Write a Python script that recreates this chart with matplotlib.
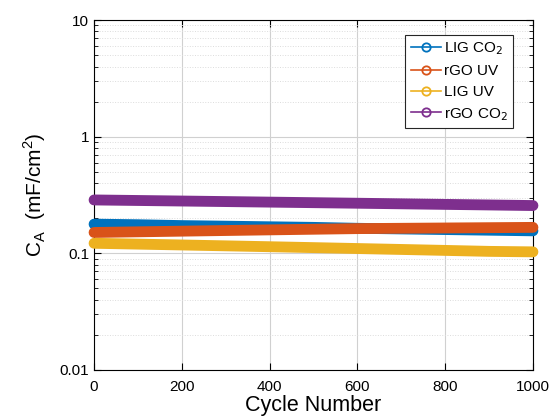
import numpy as np
import matplotlib.pyplot as plt
from matplotlib.lines import Line2D

plt.rcParams['font.family'] = ['Liberation Sans', 'DejaVu Sans']

cycles = [0, 100, 200, 300, 400, 500, 600, 700, 800, 900, 1000]
lig_co2 = [0.178, 0.176, 0.173, 0.171, 0.169, 0.167, 0.164, 0.162, 0.160, 0.158, 0.156]
rgo_uv = [0.151, 0.153, 0.155, 0.157, 0.159, 0.161, 0.163, 0.164, 0.165, 0.166, 0.167]
lig_uv = [0.122, 0.120, 0.118, 0.116, 0.114, 0.112, 0.110, 0.108, 0.106, 0.104, 0.103]
rgo_co2 = [0.287, 0.284, 0.281, 0.278, 0.275, 0.272, 0.269, 0.266, 0.263, 0.260, 0.257]

labels = ['LIG CO$_2$', 'rGO UV', 'LIG UV', 'rGO CO$_2$']
colors = ['#0072bd', '#d95319', '#edb120', '#7e2f8e']
series = [lig_co2, rgo_uv, lig_uv, rgo_co2]

fig = plt.figure(figsize=(5.5, 4.19), dpi=100)
ax = fig.add_axes([0.171, 0.117, 0.798, 0.835])

for ys, c in zip(series, colors):
    ax.plot(cycles, ys, color=c, lw=7.8, solid_capstyle='round', clip_on=False, zorder=3)

ax.set_yscale('log')
ax.set_xlim(0, 1000)
ax.set_ylim(0.01, 10)
ax.set_xticks([0, 200, 400, 600, 800, 1000])
ax.set_yticks([0.01, 0.1, 1, 10])
ax.set_yticklabels(['0.01', '0.1', '1', '10'])

ax.grid(True, which='major', color='#d0d0d0', lw=0.8, ls='-')
ax.grid(True, which='minor', axis='y', color='#dcdcdc', lw=0.7, ls=':')
ax.set_axisbelow(True)
ax.tick_params(which='both', direction='in', top=True, right=True, labelsize=11)
ax.tick_params(which='major', length=5)
ax.tick_params(which='minor', length=3)
ax.tick_params(axis='x', which='minor', top=False, bottom=False)
ax.tick_params(axis='x', pad=7)

ax.set_xlabel('Cycle Number', fontsize=15.5, labelpad=1)
ax.set_ylabel('C$_\\mathregular{A}$  (mF/cm$^\\mathregular{2}$)', fontsize=15, labelpad=8)

handles = [Line2D([], [], color=c, marker='o', mfc='none', mew=1.3, ms=6, lw=1.2) for c in colors]
leg = ax.legend(handles, labels, loc='upper right', bbox_to_anchor=(0.954, 0.957),
                borderaxespad=0, fontsize=11, fancybox=False, edgecolor='#262626', framealpha=1,
                handlelength=2.0, handletextpad=0.15, borderpad=0.35, labelspacing=0.45)
leg.get_frame().set_linewidth(0.8)

fig.savefig('out.png', dpi=100)
